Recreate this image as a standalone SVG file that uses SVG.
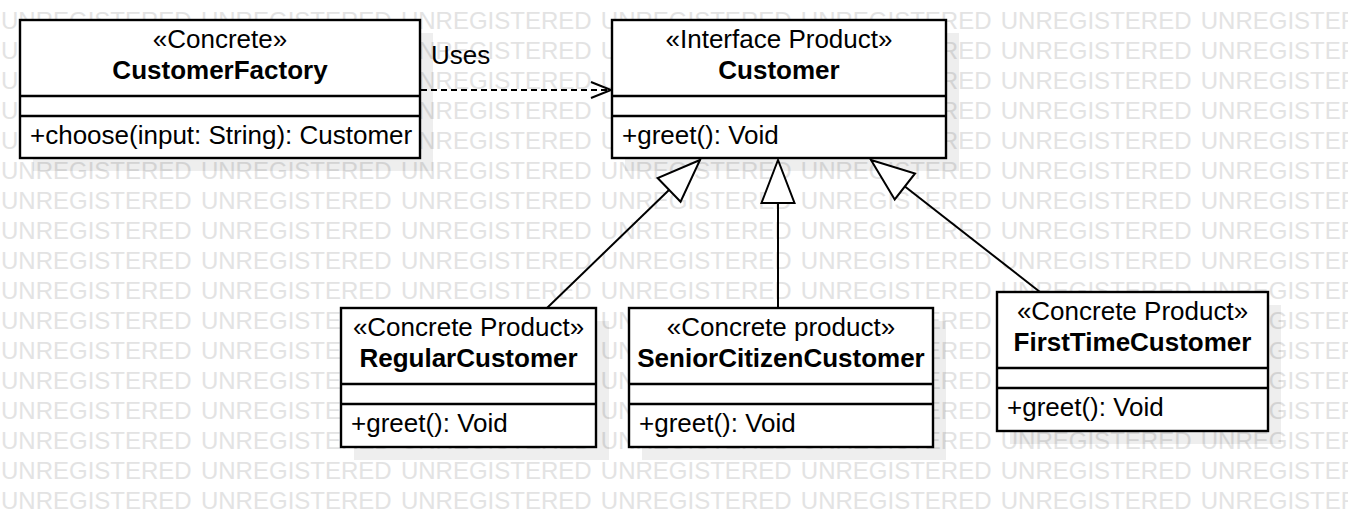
<svg xmlns="http://www.w3.org/2000/svg" width="1348" height="528" viewBox="0 0 1348 528">
<style>
.wm{font-family:"Liberation Sans",Arial,sans-serif;font-size:24px;fill:#e3e3e3;word-spacing:2.6px}
.sh{fill:#000;fill-opacity:0.065}
.box{fill:#fff;stroke:#000;stroke-width:2.4}
.div{stroke:#000;stroke-width:2.4}
.t{font-family:"Liberation Sans",Arial,sans-serif;font-size:26px;fill:#000}
.c{text-anchor:middle}
.b{font-weight:bold}
.con{fill:none;stroke:#000;stroke-width:2}
.dash{stroke-dasharray:6 4}
</style>
<defs>
<marker id="gen" markerUnits="userSpaceOnUse" markerWidth="52" markerHeight="42" viewBox="-48 -21 52 42" refX="0" refY="0" orient="auto" overflow="visible">
<path d="M0,0 L-43,-16.5 L-43,16.5 Z" fill="#fff" stroke="#000" stroke-width="2" stroke-dasharray="none"/>
</marker>
<marker id="open" markerUnits="userSpaceOnUse" markerWidth="28" markerHeight="24" viewBox="-24 -12 28 24" refX="0" refY="0" orient="auto" overflow="visible">
<path d="M-20,-8 L0,0 L-20,8" fill="none" stroke="#000" stroke-width="2" stroke-dasharray="none"/>
</marker>
</defs>
<rect width="1348" height="528" fill="#fff"/>
<g id="watermark">
<text class="wm" x="1" y="29">UNREGISTERED UNREGISTERED UNREGISTERED UNREGISTERED UNREGISTERED UNREGISTERED UNREGISTERED</text>
<text class="wm" x="1" y="59">UNREGISTERED UNREGISTERED UNREGISTERED UNREGISTERED UNREGISTERED UNREGISTERED UNREGISTERED</text>
<text class="wm" x="1" y="89">UNREGISTERED UNREGISTERED UNREGISTERED UNREGISTERED UNREGISTERED UNREGISTERED UNREGISTERED</text>
<text class="wm" x="1" y="119">UNREGISTERED UNREGISTERED UNREGISTERED UNREGISTERED UNREGISTERED UNREGISTERED UNREGISTERED</text>
<text class="wm" x="1" y="149">UNREGISTERED UNREGISTERED UNREGISTERED UNREGISTERED UNREGISTERED UNREGISTERED UNREGISTERED</text>
<text class="wm" x="1" y="179">UNREGISTERED UNREGISTERED UNREGISTERED UNREGISTERED UNREGISTERED UNREGISTERED UNREGISTERED</text>
<text class="wm" x="1" y="209">UNREGISTERED UNREGISTERED UNREGISTERED UNREGISTERED UNREGISTERED UNREGISTERED UNREGISTERED</text>
<text class="wm" x="1" y="239">UNREGISTERED UNREGISTERED UNREGISTERED UNREGISTERED UNREGISTERED UNREGISTERED UNREGISTERED</text>
<text class="wm" x="1" y="269">UNREGISTERED UNREGISTERED UNREGISTERED UNREGISTERED UNREGISTERED UNREGISTERED UNREGISTERED</text>
<text class="wm" x="1" y="299">UNREGISTERED UNREGISTERED UNREGISTERED UNREGISTERED UNREGISTERED UNREGISTERED UNREGISTERED</text>
<text class="wm" x="1" y="329">UNREGISTERED UNREGISTERED UNREGISTERED UNREGISTERED UNREGISTERED UNREGISTERED UNREGISTERED</text>
<text class="wm" x="1" y="359">UNREGISTERED UNREGISTERED UNREGISTERED UNREGISTERED UNREGISTERED UNREGISTERED UNREGISTERED</text>
<text class="wm" x="1" y="389">UNREGISTERED UNREGISTERED UNREGISTERED UNREGISTERED UNREGISTERED UNREGISTERED UNREGISTERED</text>
<text class="wm" x="1" y="419">UNREGISTERED UNREGISTERED UNREGISTERED UNREGISTERED UNREGISTERED UNREGISTERED UNREGISTERED</text>
<text class="wm" x="1" y="449">UNREGISTERED UNREGISTERED UNREGISTERED UNREGISTERED UNREGISTERED UNREGISTERED UNREGISTERED</text>
<text class="wm" x="1" y="479">UNREGISTERED UNREGISTERED UNREGISTERED UNREGISTERED UNREGISTERED UNREGISTERED UNREGISTERED</text>
<text class="wm" x="1" y="509">UNREGISTERED UNREGISTERED UNREGISTERED UNREGISTERED UNREGISTERED UNREGISTERED UNREGISTERED</text>
</g>
<g id="shadows">
<rect class="sh" x="33" y="33" width="400" height="138"/>
<rect class="sh" x="625" y="33" width="334" height="138"/>
<rect class="sh" x="354" y="321" width="255" height="139"/>
<rect class="sh" x="642" y="321" width="304" height="139"/>
<rect class="sh" x="1010" y="305" width="271" height="139"/>
</g>
<g id="connectors">
<path class="con dash" d="M421,90 L611,90" marker-end="url(#open)"/>
<text class="t" x="431" y="64">Uses</text>
<path class="con" d="M547,308 L700,160" marker-end="url(#gen)"/>
<path class="con" d="M778,308 L778,160" marker-end="url(#gen)"/>
<path class="con" d="M1040,292 L871,160" marker-end="url(#gen)"/>
</g>
<g id="CustomerFactory">
<rect class="box" x="20" y="20" width="400" height="138"/>
<line class="div" x1="20" y1="96" x2="420" y2="96"/>
<line class="div" x1="20" y1="116" x2="420" y2="116"/>
<text class="t c" x="220" y="48">«Concrete»</text>
<text class="t c b" x="220" y="79">CustomerFactory</text>
<text class="t" x="30" y="144">+choose(input: String): Customer</text>
</g>
<g id="Customer">
<rect class="box" x="612" y="20" width="334" height="138"/>
<line class="div" x1="612" y1="96" x2="946" y2="96"/>
<line class="div" x1="612" y1="116" x2="946" y2="116"/>
<text class="t c" x="779" y="48">«Interface Product»</text>
<text class="t c b" x="779" y="79">Customer</text>
<text class="t" x="622" y="144">+greet(): Void</text>
</g>
<g id="RegularCustomer">
<rect class="box" x="341" y="308" width="255" height="139"/>
<line class="div" x1="341" y1="384" x2="596" y2="384"/>
<line class="div" x1="341" y1="404" x2="596" y2="404"/>
<text class="t c" x="468.5" y="336">«Concrete Product»</text>
<text class="t c b" x="468.5" y="367">RegularCustomer</text>
<text class="t" x="351" y="432">+greet(): Void</text>
</g>
<g id="SeniorCitizenCustomer">
<rect class="box" x="629" y="308" width="304" height="139"/>
<line class="div" x1="629" y1="384" x2="933" y2="384"/>
<line class="div" x1="629" y1="404" x2="933" y2="404"/>
<text class="t c" x="781" y="336">«Concrete product»</text>
<text class="t c b" x="781" y="367">SeniorCitizenCustomer</text>
<text class="t" x="639" y="432">+greet(): Void</text>
</g>
<g id="FirstTimeCustomer">
<rect class="box" x="997" y="292" width="271" height="139"/>
<line class="div" x1="997" y1="368" x2="1268" y2="368"/>
<line class="div" x1="997" y1="388" x2="1268" y2="388"/>
<text class="t c" x="1132.5" y="320">«Concrete Product»</text>
<text class="t c b" x="1132.5" y="351">FirstTimeCustomer</text>
<text class="t" x="1007" y="416">+greet(): Void</text>
</g>
</svg>
